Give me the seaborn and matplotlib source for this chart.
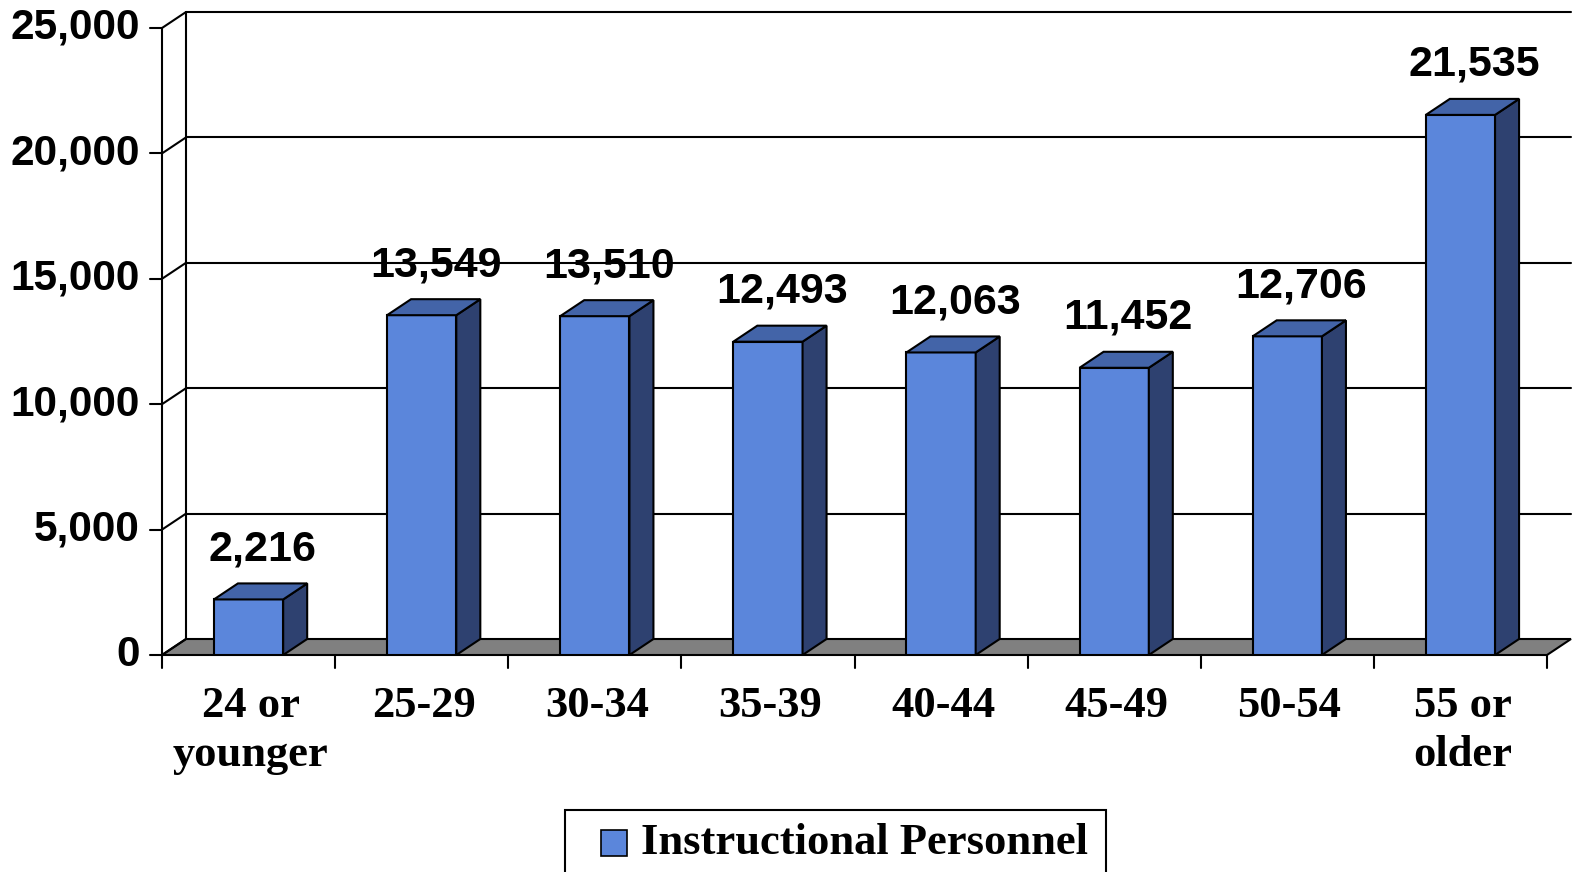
import matplotlib
matplotlib.use('Agg')
import pandas as pd
import matplotlib.pyplot as plt
import seaborn as sns
from matplotlib.patches import Polygon, Rectangle

# Data
age_groups = ['24 or\nyounger', '25-29', '30-34', '35-39', '40-44', '45-49', '50-54', '55 or\nolder']
personnel = [2216, 13549, 13510, 12493, 12063, 11452, 12706, 21535]
y_ticks = [0, 5000, 10000, 15000, 20000, 25000]
series_name = 'Instructional Personnel'

front_col = '#5B86DB'
side_col = '#2E4170'
top_col = '#4364A8'
floor_col = '#808080'

sns.set_theme(style='white')
plt.rcParams['font.family'] = ['Liberation Sans', 'DejaVu Sans']
serif = ['Liberation Serif', 'DejaVu Serif']

W, H = 1572, 872
fig = plt.figure(figsize=(W / 100, H / 100), dpi=100)
# front plane: x -0.5..7.5 -> px 162..1547, y 0..25000 -> px 655..28
ax = fig.add_axes([162 / W, (H - 655) / H, 1385 / W, 627 / H])

df = pd.DataFrame({'age': age_groups, 'count': personnel})
sns.barplot(data=df, x='age', y='count', color=front_col, saturation=1, width=0.4,
            edgecolor='black', linewidth=1.5, ax=ax, zorder=5)
ax.set_xlim(-0.5, len(age_groups) - 0.5)
ax.set_ylim(0, y_ticks[-1])
ax.axis('off')


# pixel -> data helpers for the fake 3d depth
def px_x(n):
    return n * len(age_groups) / 1385


def px_y(n):
    return n * y_ticks[-1] / 627


dx, dy = px_x(24), px_y(16)
x_lo, x_hi = -0.5, len(age_groups) - 0.5
kw = dict(color='black', lw=1.5, clip_on=False)

# floor
ax.add_patch(Polygon([(x_lo, 0), (x_hi, 0), (x_hi + dx, dy), (x_lo + dx, dy)],
                     closed=True, facecolor=floor_col, edgecolor='black', lw=1.5,
                     clip_on=False, zorder=2))

# back wall grid + left wall
for t in y_ticks:
    if t > 0:
        ax.plot([x_lo + dx, x_hi + dx], [t + dy, t + dy], zorder=1, **kw)
    ax.plot([x_lo, x_lo + dx], [t, t + dy], zorder=3, **kw)
    ax.plot([x_lo - px_x(12), x_lo], [t, t], zorder=3, **kw)
    ax.text(x_lo - px_x(22), t, f'{t:,}', ha='right', va='center',
            fontsize=30.5, fontweight='bold', color='black')
ax.plot([x_lo, x_lo], [0, y_ticks[-1]], zorder=3, **kw)
ax.plot([x_lo + dx, x_lo + dx], [dy, y_ticks[-1] + dy], zorder=1, **kw)

# category ticks under the floor
for i in range(len(age_groups) + 1):
    ax.plot([x_lo + i, x_lo + i], [0, -px_y(13)], zorder=3, **kw)

# category labels
for i, lab in enumerate(age_groups):
    ax.text(i + px_x(2), -px_y(31), lab, ha='center', va='top', fontsize=32,
            fontweight='bold', family=serif, linespacing=1.3, color='black')

# side and top faces of the bars, plus value labels
bars = [p for p in ax.patches if isinstance(p, Rectangle)]
for p, v in zip(bars, personnel):
    x0, w, h = p.get_x(), p.get_width(), p.get_height()
    ax.add_patch(Polygon([(x0 + w, 0), (x0 + w + dx, dy), (x0 + w + dx, h + dy), (x0 + w, h)],
                         closed=True, facecolor=side_col, edgecolor='black', lw=1.5,
                         clip_on=False, zorder=5))
    ax.add_patch(Polygon([(x0, h), (x0 + w, h), (x0 + w + dx, h + dy), (x0 + dx, h + dy)],
                         closed=True, facecolor=top_col, edgecolor='black', lw=1.5,
                         clip_on=False, zorder=5))
    ax.text(x0 + w / 2 + px_x(14), h + dy + px_y(14), f'{v:,}', ha='center', va='bottom',
            fontsize=31, fontweight='bold', color='black', zorder=6)

# legend box drawn by hand (bottom is cut off by the figure edge)
fig.patches.append(Rectangle((565 / W, -10 / H), 541 / W, (H - 810 + 10) / H,
                             transform=fig.transFigure, facecolor='white',
                             edgecolor='black', lw=1.5))
fig.patches.append(Rectangle((601 / W, (H - 856) / H), 26 / W, 26 / H,
                             transform=fig.transFigure, facecolor=front_col,
                             edgecolor='black', lw=1.2))
fig.text(641 / W, (H - 843) / H, series_name, ha='left', va='center', fontsize=32,
         fontweight='bold', family=serif, color='black')

fig.savefig('out.png', dpi=100)
